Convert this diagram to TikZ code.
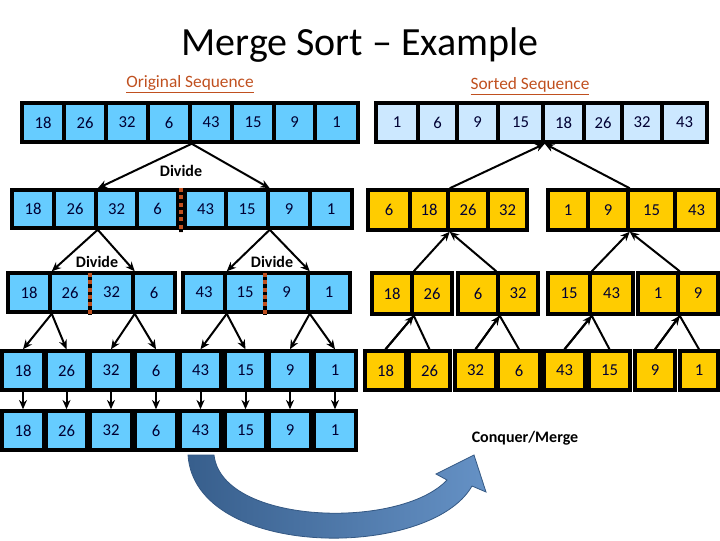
\documentclass[tikz,border=0pt]{standalone}
\usepackage{fontspec}
\setmainfont{Carlito}
\usetikzlibrary{arrows.meta}
\definecolor{cblue}{HTML}{66CCFF}
\definecolor{clight}{HTML}{CCE8FF}
\definecolor{cyel}{HTML}{FFCC00}
\definecolor{cred}{HTML}{C0501F}
\definecolor{carrow}{HTML}{4A7EBB}
\tikzset{
  cellb/.style={draw=black,line width=2.6pt,inner sep=0pt,font=\fontsize{12.5}{13}\selectfont,text=black!80!blue},
  bl/.style={cellb,fill=cblue},
  lt/.style={cellb,fill=clight},
  ye/.style={cellb,fill=cyel},
  arr/.style={line width=1.5pt,-{Stealth[length=7pt,width=6pt]}},
  ln/.style={line width=1.5pt},
  lbl/.style={font=\bfseries\fontsize{12}{13}\selectfont},
  divider/.style={line width=3.5pt,draw=cred,dash pattern=on 3pt off 2.5pt}
}
\newcommand\cell[7]{\node[#7,minimum width={(#3-#2)*0.75pt},minimum height={(#5-#4)*0.75pt}] (#1) at ({(#2+#3)/2},{(#4+#5)/2}) {#6};}
\begin{document}
\begin{tikzpicture}[x=0.75pt,y=-0.75pt]
\useasboundingbox (0,0) rectangle (720,540);
\node[font=\fontsize{30}{32}\selectfont] (title) at (360,45) {Merge Sort – Example};
\node[text=cred,font=\fontsize{13}{14}\selectfont] (orig) at (190,84) {\underline{Original Sequence}};
\node[text=cred,font=\fontsize{13}{14}\selectfont] (sorted) at (530,86) {\underline{Sorted Sequence}};
% row A
\cell{A1}{22}{64}{103}{142}{18}{bl}\cell{A2}{64}{106}{103}{142}{26}{bl}
\cell{A3}{106}{148}{103}{142}{32}{bl}\cell{A4}{148}{190}{103}{142}{6}{bl}
\cell{A5}{190}{232}{103}{142}{43}{bl}\cell{A6}{232}{274}{103}{142}{15}{bl}
\cell{A7}{274}{315}{103}{142}{9}{bl}\cell{A8}{315}{358}{103}{142}{1}{bl}
% row B
\cell{B1}{12}{54}{190}{228}{18}{bl}\cell{B2}{54}{96}{190}{228}{26}{bl}
\cell{B3}{96}{137}{190}{228}{32}{bl}\cell{B4}{137}{178}{190}{228}{6}{bl}
\cell{B5}{185}{226}{190}{228}{43}{bl}\cell{B6}{226}{268}{190}{228}{15}{bl}
\cell{B7}{268}{310}{190}{228}{9}{bl}\cell{B8}{310}{352}{190}{228}{1}{bl}
% row C
\cell{C1}{8}{50}{273}{312}{18}{bl}\cell{C2}{50}{90}{273}{312}{26}{bl}
\cell{C3}{90}{133}{273}{312}{32}{bl}\cell{C4}{133}{175}{273}{312}{6}{bl}
\cell{C5}{183}{225}{273}{312}{43}{bl}\cell{C6}{225}{265}{273}{312}{15}{bl}
\cell{C7}{265}{308}{273}{312}{9}{bl}\cell{C8}{308}{350}{273}{312}{1}{bl}
% row D
\cell{D1}{2}{44}{351}{390}{18}{bl}\cell{D2}{46}{87}{351}{390}{26}{bl}
\cell{D3}{90}{132}{351}{390}{32}{bl}\cell{D4}{135}{177}{351}{390}{6}{bl}
\cell{D5}{180}{221}{351}{390}{43}{bl}\cell{D6}{225}{266}{351}{390}{15}{bl}
\cell{D7}{269}{311}{351}{390}{9}{bl}\cell{D8}{314}{356}{351}{390}{1}{bl}
% row E
\cell{E1}{2}{44}{411}{450}{18}{bl}\cell{E2}{46}{87}{411}{450}{26}{bl}
\cell{E3}{90}{132}{411}{450}{32}{bl}\cell{E4}{135}{177}{411}{450}{6}{bl}
\cell{E5}{180}{221}{411}{450}{43}{bl}\cell{E6}{225}{266}{411}{450}{15}{bl}
\cell{E7}{269}{311}{411}{450}{9}{bl}\cell{E8}{314}{356}{411}{450}{1}{bl}
% sorted row S
\cell{S1}{376}{418}{103}{142}{1}{lt}\cell{S2}{418}{457}{103}{142}{6}{lt}
\cell{S3}{457}{498}{103}{142}{9}{lt}\cell{S4}{498}{543}{103}{142}{15}{lt}
\cell{S5}{543}{584}{103}{142}{18}{lt}\cell{S6}{584}{622}{103}{142}{26}{lt}
\cell{S7}{622}{662}{103}{142}{32}{lt}\cell{S8}{662}{707}{103}{142}{43}{lt}
% row P
\cell{P1}{368}{410}{190}{230}{6}{ye}\cell{P2}{410}{448}{190}{230}{18}{ye}
\cell{P3}{448}{488}{190}{230}{26}{ye}\cell{P4}{488}{527}{190}{230}{32}{ye}
\cell{P5}{548}{588}{190}{230}{1}{ye}\cell{P6}{588}{628}{190}{230}{9}{ye}
\cell{P7}{628}{675}{190}{230}{15}{ye}\cell{P8}{675}{718}{190}{230}{43}{ye}
% row Q
\cell{Q1}{372}{412}{273}{314}{18}{ye}\cell{Q2}{412}{452}{273}{314}{26}{ye}
\cell{Q3}{458}{498}{273}{314}{6}{ye}\cell{Q4}{498}{538}{273}{314}{32}{ye}
\cell{Q5}{548}{590}{273}{314}{15}{ye}\cell{Q6}{590}{633}{273}{314}{43}{ye}
\cell{Q7}{638}{678}{273}{314}{1}{ye}\cell{Q8}{678}{718}{273}{314}{9}{ye}
% row R
\cell{R1}{365}{406}{351}{390}{18}{ye}\cell{R2}{409}{450}{351}{390}{26}{ye}
\cell{R3}{455}{496}{351}{390}{32}{ye}\cell{R4}{498}{540}{351}{390}{6}{ye}
\cell{R5}{544}{585}{351}{390}{43}{ye}\cell{R6}{589}{630}{351}{390}{15}{ye}
\cell{R7}{635}{675}{351}{390}{9}{ye}\cell{R8}{680}{718}{351}{390}{1}{ye}
% dividers
\coordinate (d1a) at (181,188); \coordinate (d1b) at (181,232);
\coordinate (d2a) at (90,273); \coordinate (d2b) at (90,315);
\coordinate (d3a) at (265,273); \coordinate (d3b) at (265,315);
\draw[line width=3.5pt,black] (d1a)--(d1b) (d2a)--(d2b) (d3a)--(d3b);
\draw[divider] (d1a)--(d1b) (d2a)--(d2b) (d3a)--(d3b);
% labels
\node[lbl] (dv1) at (181,171) {Divide};
\node[lbl] (dv2) at (97,262) {Divide};
\node[lbl] (dv3) at (272,262) {Divide};
\node[lbl] (cm) at (525,438) {Conquer/Merge};
% divide arrows
\draw[arr] (A4.south east) -- (B2.north east);
\draw[arr] (A4.south east) -- (B6.north east);
\draw[arr] (B2.south east) -- (C1.north east);
\draw[arr] (B2.south east) -- (C3.north east);
\draw[arr] (B6.south east) -- (C5.north east);
\draw[arr] (B6.south east) -- (C7.north east);
\draw[arr] (C1.south east) -- (D1.north);
\draw[arr] (C1.south east) -- (D2.north);
\draw[arr] (C3.south east) -- (D3.north);
\draw[arr] (C3.south east) -- (D4.north);
\draw[arr] (C5.south east) -- (D5.north);
\draw[arr] (C5.south east) -- (D6.north);
\draw[arr] (C7.south east) -- (D7.north);
\draw[arr] (C7.south east) -- (D8.north);
\foreach \i in {1,...,8}{\draw[arr] (D\i.south) -- (E\i.north);}
% merge arrows
\draw[ln] (R1.north) -- (Q1.south east) -- (R2.north);
\draw[ln] (R3.north) -- (Q3.south east) -- (R4.north);
\draw[ln] (R5.north) -- (Q5.south east) -- (R6.north);
\draw[ln] (R7.north) -- (Q7.south east) -- (R8.north);
\draw[arr] (R1.north) -- (Q1.south east);
\draw[arr] (R3.north) -- (Q3.south east);
\draw[arr] (R5.north) -- (Q5.south east);
\draw[arr] (R7.north) -- (Q7.south east);
\draw[arr] (Q1.north east) -- (P2.south east);
\draw[arr] (Q4.north west) -- (P2.south east);
\draw[arr] (Q5.north east) -- (P6.south east);
\draw[arr] (Q7.north east) -- (P6.south east);
\draw[arr] (P2.north east) -- (S4.south east);
\draw[arr] (P6.north east) -- (S4.south east);
% big curved arrow
\shade[left color=carrow!75!black,right color=carrow!85!white,draw=carrow!70!black,line width=0.6pt]
 (188,455) -- (214,455) .. controls (222,525) and (400,530) .. (447,480)
 -- (436,474) -- (474,455) -- (486,492) -- (472,486)
 .. controls (430,560) and (195,560) .. (188,455) -- cycle;
\end{tikzpicture}
\end{document}
